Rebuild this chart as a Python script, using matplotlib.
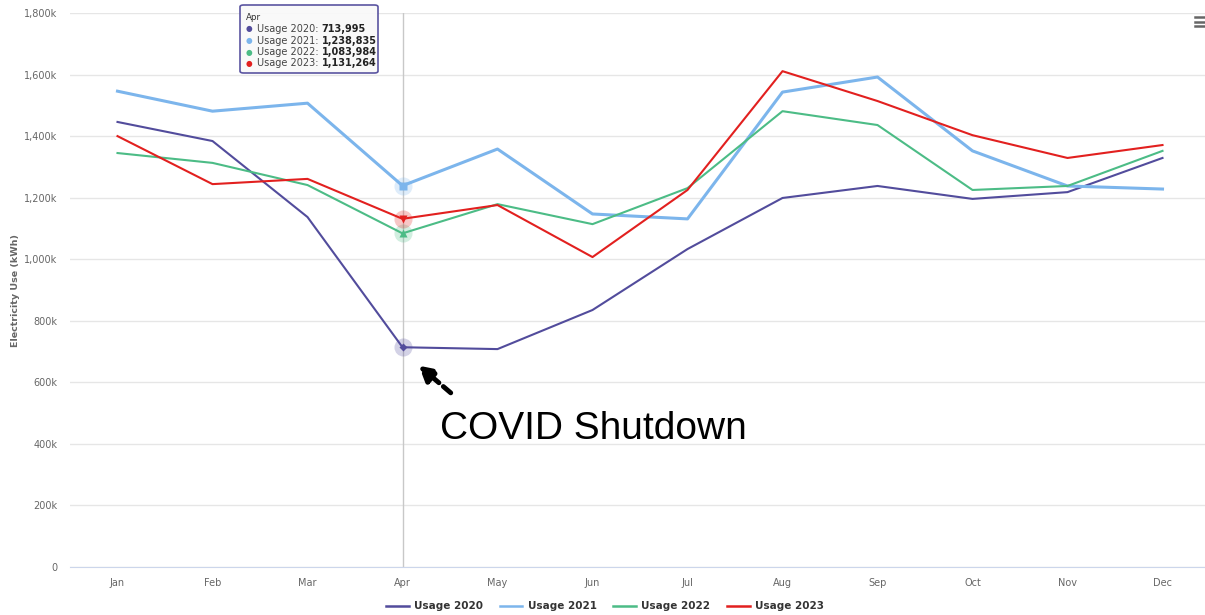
import numpy as np
import matplotlib
matplotlib.use("Agg")
import matplotlib.pyplot as plt
from matplotlib.lines import Line2D
from matplotlib.patches import FancyBboxPatch
from matplotlib.ticker import FuncFormatter

months = ["Jan", "Feb", "Mar", "Apr", "May", "Jun", "Jul", "Aug", "Sep", "Oct", "Nov", "Dec"]
usage_2020 = [1446000, 1384000, 1137000, 713995, 708000, 835000, 1033000, 1199000, 1238000, 1196000, 1218000, 1329000]
usage_2021 = [1546000, 1481000, 1507000, 1238835, 1358000, 1147000, 1131000, 1543000, 1592000, 1352000, 1238000, 1228000]
usage_2022 = [1345000, 1313000, 1241000, 1083984, 1179000, 1114000, 1231000, 1481000, 1436000, 1225000, 1238000, 1352000]
usage_2023 = [1400000, 1244000, 1261000, 1131264, 1176000, 1007000, 1225000, 1611000, 1514000, 1403000, 1329000, 1371000]

series = [
    ("Usage 2020", usage_2020, "#524c9c", "D", 1.5),
    ("Usage 2021", usage_2021, "#7cb5ec", "s", 2.2),
    ("Usage 2022", usage_2022, "#4cbc86", "^", 1.5),
    ("Usage 2023", usage_2023, "#e2201f", "v", 1.5),
]
hover = 3  # Apr

fig = plt.figure(figsize=(12.05, 6.15), dpi=100)
ax = fig.add_axes([70 / 1205, 48 / 615, 1140 / 1205, 554 / 615])
x = np.arange(len(months))

ax.axvline(hover, color="#c8c8c8", lw=1, zorder=1)
for name, vals, col, mk, lw in series:
    ax.plot(x, vals, color=col, lw=lw, label=name, zorder=3)
    ax.plot(hover, vals[hover], marker="o", ms=13, color=col, alpha=0.25, mec="none", zorder=4)
    ax.plot(hover, vals[hover], marker=mk, ms=6 if mk != "D" else 4.5, color=col, mec="none", zorder=5)

ax.set_xlim(-0.5, 11.5)
ax.set_ylim(0, 1800000)
ax.set_yticks(np.arange(0, 1800001, 200000))
ax.yaxis.set_major_formatter(FuncFormatter(lambda v, p: "0" if v == 0 else f"{int(v / 1000):,}k"))
ax.set_xticks(x)
ax.set_xticklabels(months)
ax.grid(axis="y", color="#e6e6e6", lw=1)
ax.set_axisbelow(True)
for s in ["top", "right", "left"]:
    ax.spines[s].set_visible(False)
ax.spines["bottom"].set_color("#ccd6eb")
ax.tick_params(axis="both", length=0, labelsize=7, colors="#666666")
ax.tick_params(axis="x", pad=8)
ax.tick_params(axis="y", pad=9)
ax.set_ylabel("Electricity Use (kWh)", fontsize=6.8, color="#666666", fontweight="bold")
ax.yaxis.set_label_coords(-50 / 1140, 0.5)

leg = ax.legend(loc="upper center", bbox_to_anchor=(0.5 - 35 / 1140, -0.045), ncol=4, frameon=False,
                prop={"size": 7.5, "weight": "bold"}, handlelength=2.2, columnspacing=1.6, handletextpad=0.5)
for t in leg.get_texts():
    t.set_color("#333333")
for h in leg.get_lines():
    h.set_linewidth(1.8)

# annotation
ax.annotate("", xy=(hover + 0.15, 660000), xytext=(hover + 0.53, 560000),
            arrowprops=dict(arrowstyle="-|>,head_width=0.5,head_length=0.9", color="black", lw=3.5, ls=(0, (2, 1.2))),
            zorder=6)
ax.text(hover + 0.39, 447000, "COVID Shutdown", fontsize=28, family="Liberation Sans", va="center", ha="left")

# tooltip
box = FancyBboxPatch((240 / 1205, 1 - 73 / 615), 138 / 1205, 68 / 615, boxstyle="round,pad=0,rounding_size=0.003",
                     transform=fig.transFigure, fc="#f9f9f9", ec="#524c9c", lw=1.2, alpha=0.95, zorder=10)
fig.patches.append(box)
fig.text(246 / 1205, 1 - 17 / 615, "Apr", fontsize=6.3, color="#333333", va="center", zorder=11)
fig.canvas.draw()
for i, (name, vals, col, mk, lw) in enumerate(series):
    yy = 1 - (29 + i * 11.5) / 615
    fig.text(246 / 1205, yy, "\u25cf", fontsize=5.5, color=col, va="center", zorder=11)
    t1 = fig.text(257 / 1205, yy, f"{name}: ", fontsize=7.0, color="#444444", va="center", zorder=11)
    bb = t1.get_window_extent(renderer=fig.canvas.get_renderer())
    fig.text(bb.x1 / 1205, yy, f"{vals[hover]:,}", fontsize=7.0, color="#222222", fontweight="bold", va="center", zorder=11)

# menu icon
for k in range(3):
    yy = 1 - (17 + k * 4.5) / 615
    fig.add_artist(Line2D([1195 / 1205, 1205 / 1205], [yy, yy], color="#666666", lw=1.8, transform=fig.transFigure))

fig.savefig("out.png", dpi=100, facecolor="white")
